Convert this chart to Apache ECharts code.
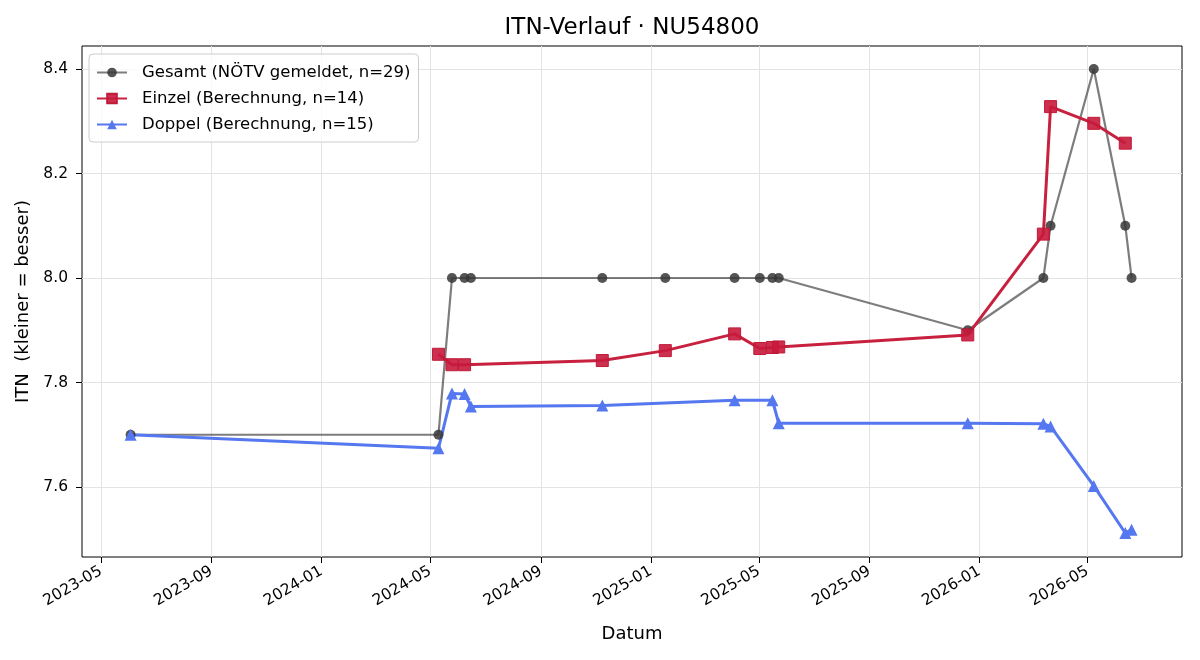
<!DOCTYPE html>
<html>
<head>
<meta charset="utf-8">
<script src="https://cdn.jsdelivr.net/npm/echarts@6/dist/echarts.min.js"></script>
<style>
  html, body { margin: 0; padding: 0; background: #fff; }
  #chart { width: 1200px; height: 660px; }
</style>
</head>
<body>
<div id="chart"></div>
<script>
// values
var gesamtDates = ['2023-06-03', '2024-05-10', '2024-05-25', '2024-06-08', '2024-06-15', '2024-11-08',
    '2025-01-17', '2025-04-04', '2025-05-02', '2025-05-16', '2025-05-23', '2025-12-19',
    '2026-03-13', '2026-03-21', '2026-05-08', '2026-06-12', '2026-06-19'];
var gesamtValues = [7.7, 7.7, 8.0, 8.0, 8.0, 8.0, 8.0, 8.0, 8.0, 8.0, 8.0, 7.9, 8.0, 8.1, 8.4, 8.1, 8.0];

var einzelDates = ['2024-05-10', '2024-05-25', '2024-06-08', '2024-11-08', '2025-01-17', '2025-04-04',
    '2025-05-02', '2025-05-16', '2025-05-23', '2025-12-19', '2026-03-13', '2026-03-21',
    '2026-05-08', '2026-06-12'];
var einzelValues = [7.854, 7.834, 7.834, 7.842, 7.861, 7.893, 7.865, 7.867, 7.868, 7.891, 8.084, 8.328, 8.296, 8.258];

var doppelDates = ['2023-06-03', '2024-05-10', '2024-05-25', '2024-06-08', '2024-06-15', '2024-11-08',
    '2025-04-04', '2025-05-16', '2025-05-23', '2025-12-19', '2026-03-13', '2026-03-21',
    '2026-05-08', '2026-06-12', '2026-06-19'];
var doppelValues = [7.700, 7.674, 7.779, 7.778, 7.754, 7.756, 7.766, 7.766, 7.722, 7.722, 7.721, 7.716, 7.602, 7.512, 7.518];

var xTicks = ['2023-05-01', '2023-09-01', '2024-01-01', '2024-05-01', '2024-09-01', '2025-01-01',
    '2025-05-01', '2025-09-01', '2026-01-01', '2026-05-01'];
var yTicks = [7.6, 7.8, 8.0, 8.2, 8.4];

var FONT = 'DejaVu Sans';

function ts(d) {
    return echarts.time.parse(d).getTime();
}

function pairs(dates, values) {
    return dates.map(function (d, i) { return [ts(d), values[i]]; });
}

var xTickNums = xTicks.map(ts);

var chart = echarts.init(document.getElementById('chart'), null, { renderer: 'canvas' });

var option = {
    backgroundColor: '#fff',
    animation: false,
    title: {
        text: 'ITN-Verlauf · NU54800',
        left: 632,
        top: 17,
        textAlign: 'center',
        padding: 0,
        textStyle: { fontFamily: FONT, fontSize: 23, fontWeight: 'normal', color: '#000' }
    },
    legend: {
        orient: 'vertical',
        left: 89,
        top: 54,
        padding: [10, 8, 9, 7],
        itemWidth: 30,
        itemHeight: 12,
        itemGap: 9,
        backgroundColor: 'rgba(255,255,255,0.8)',
        borderColor: '#cccccc',
        borderWidth: 1,
        borderRadius: 4,
        textStyle: { fontFamily: FONT, fontSize: 16.5, color: '#000', padding: [0, 0, 0, 10] },
        data: ['Gesamt (NÖTV gemeldet, n=29)', 'Einzel (Berechnung, n=14)', 'Doppel (Berechnung, n=15)']
    },
    grid: {
        left: 82, right: 18, top: 46, bottom: 103,
        show: true, borderColor: '#000', borderWidth: 1, backgroundColor: 'transparent'
    },
    xAxis: {
        type: 'value',
        min: ts('2023-04-10'),
        max: ts('2026-08-14'),
        name: 'Datum',
        nameLocation: 'middle',
        nameGap: 68,
        nameTextStyle: { fontFamily: FONT, fontSize: 18, color: '#000' },
        axisLine: { show: false },
        axisTick: { show: true, length: 6, lineStyle: { color: '#000' }, customValues: xTickNums },
        axisLabel: {
            customValues: xTickNums,
            rotate: 30,
            margin: 13,
            fontFamily: FONT,
            fontSize: 15.5,
            color: '#000',
            formatter: function (v) { return echarts.time.format(v, '{yyyy}-{MM}', false); }
        },
        splitLine: { show: true, lineStyle: { color: '#e3e3e3', width: 1 } }
    },
    yAxis: {
        type: 'value',
        min: 7.466,
        max: 8.444,
        name: 'ITN  (kleiner = besser)',
        nameLocation: 'middle',
        nameRotate: 90,
        nameGap: 46,
        nameTextStyle: { fontFamily: FONT, fontSize: 18, color: '#000' },
        axisLine: { show: false },
        axisTick: { show: true, length: 6, lineStyle: { color: '#000' }, customValues: yTicks },
        axisLabel: {
            customValues: yTicks,
            margin: 14,
            fontFamily: FONT,
            fontSize: 15.5,
            color: '#000',
            formatter: function (v) { return v.toFixed(1); }
        },
        splitLine: { show: true, lineStyle: { color: '#e3e3e3', width: 1 } }
    },
    series: [
        {
            name: 'Gesamt (NÖTV gemeldet, n=29)',
            type: 'line',
            data: pairs(gesamtDates, gesamtValues),
            symbol: 'circle',
            symbolSize: 10,
            lineStyle: { color: 'rgba(70,70,70,0.7)', width: 2.2 },
            itemStyle: { color: 'rgba(55,55,55,0.85)' }
        },
        {
            name: 'Einzel (Berechnung, n=14)',
            type: 'line',
            data: pairs(einzelDates, einzelValues),
            symbol: 'rect',
            symbolSize: 12,
            lineStyle: { color: '#c8203f', width: 3 },
            itemStyle: { color: 'rgba(200,25,60,0.9)', borderColor: '#c01a38', borderWidth: 1 }
        },
        {
            name: 'Doppel (Berechnung, n=15)',
            type: 'line',
            data: pairs(doppelDates, doppelValues),
            symbol: 'triangle',
            symbolSize: 12,
            lineStyle: { color: '#5577f0', width: 3 },
            itemStyle: { color: '#5577f0' }
        }
    ]
};

chart.setOption(option);
</script>
</body>
</html>
